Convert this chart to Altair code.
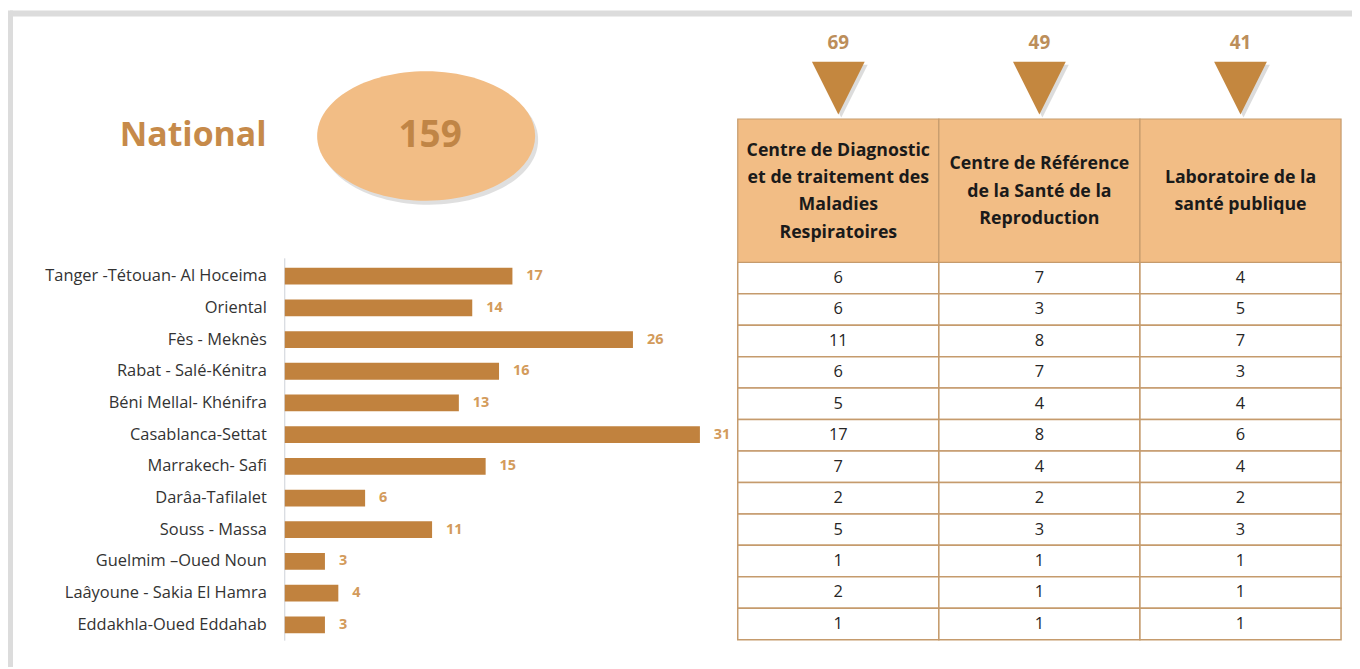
import altair as alt
import pandas as pd

# ---------------- data ----------------
regions = [
    "Tanger -Tétouan- Al Hoceima", "Oriental", "Fès - Meknès",
    "Rabat - Salé-Kénitra", "Béni Mellal- Khénifra", "Casablanca-Settat",
    "Marrakech- Safi", "Darâa-Tafilalet", "Souss - Massa",
    "Guelmim –Oued Noun", "Laâyoune - Sakia El Hamra", "Eddakhla-Oued Eddahab",
]
region_totals = [17, 14, 26, 16, 13, 31, 15, 6, 11, 3, 4, 3]

col_ids = ["cdtmr", "crsr", "lsp"]
col_headers = [
    "Centre de Diagnostic\net de traitement des\nMaladies\nRespiratoires",
    "Centre de Référence\nde la Santé de la\nReproduction",
    "Laboratoire de la\nsanté publique",
]
cdtmr = [6, 6, 11, 6, 5, 17, 7, 2, 5, 1, 2, 1]
crsr = [7, 3, 8, 7, 4, 8, 4, 2, 3, 1, 1, 1]
lsp = [4, 5, 7, 3, 4, 6, 4, 2, 3, 1, 1, 1]
national_label = "National"

# ---------------- tables built from the lists ----------------
df_reg = pd.DataFrame({"region": regions, "total": region_totals})
df_cells = pd.concat(
    [pd.DataFrame({"region": regions, "col": cid, "value": vals})
     for cid, vals in zip(col_ids, [cdtmr, crsr, lsp])],
    ignore_index=True,
)
df_cols = pd.DataFrame({
    "col": col_ids,
    "total": [sum(cdtmr), sum(crsr), sum(lsp)],
})
hdr_rows = []
for cid, h in zip(col_ids, col_headers):
    lines = h.split("\n")
    n = len(lines)
    for i, ln in enumerate(lines):
        hdr_rows.append({"col": cid, "line": ln, "pos": i - (n - 1) / 2})
df_hdr = pd.DataFrame(hdr_rows)
df_nat = pd.DataFrame({"label": [national_label], "total": [sum(region_totals)]})

FONT = "Open Sans"
BAR = "#c1823e"
LBL = "#d39b5b"
GRID = "#c59b6d"
PEACH = "#f2bd85"

# ---------------- scales ----------------
xs_bar = alt.Scale(domain=[0, 31], range=[278, 695], nice=False, zero=True)
ys_bar = alt.Scale(domain=regions, range=[252, 634], paddingInner=0.47, paddingOuter=0.235)
xs_tab = alt.Scale(domain=col_ids, range=[733, 1339], paddingInner=0, paddingOuter=0)
ys_tab = alt.Scale(domain=regions, range=[254, 633], paddingInner=0, paddingOuter=0)
ys_hdr = alt.Scale(domain=[-2, 2], range=[128, 238], nice=False, zero=False)

one = alt.Data(values=[{"a": 1}])

# frame (decoration)
frame_top = alt.Chart(one).mark_rule(color="#dcdcdc", strokeWidth=6).encode(
    x=alt.value(2), x2=alt.value(1352), y=alt.value(4))
frame_left = alt.Chart(one).mark_rule(color="#dcdcdc", strokeWidth=6).encode(
    x=alt.value(2), y=alt.value(1), y2=alt.value(662))

# bar chart
axis_line = alt.Chart(one).mark_rule(color="#cdd1d8", strokeWidth=1).encode(
    x=alt.XDatum(0, scale=xs_bar, axis=None), y=alt.value(250), y2=alt.value(634))
bars = alt.Chart(df_reg).mark_bar(color=BAR).encode(
    x=alt.X("total:Q", scale=xs_bar, axis=None),
    y=alt.Y("region:N", scale=ys_bar, axis=None, sort=regions),
)
bar_labels = alt.Chart(df_reg).mark_text(
    align="left", baseline="middle", dx=14, font=FONT, fontSize=14.5,
    fontWeight="bold", color=LBL,
).encode(
    x=alt.X("total:Q", scale=xs_bar, axis=None),
    y=alt.Y("region:N", scale=ys_bar, axis=None, sort=regions),
    text="total:Q",
)
region_labels = alt.Chart(df_reg).mark_text(
    align="right", baseline="middle", dx=-18, font=FONT, fontSize=16.5,
    color="#333333",
).encode(
    x=alt.XDatum(0, scale=xs_bar, axis=None),
    y=alt.Y("region:N", scale=ys_bar, axis=None, sort=regions),
    text="region:N",
)

# table
cells = alt.Chart(df_cells).mark_rect(fill="white", stroke=GRID, strokeWidth=1.5).encode(
    x=alt.X("col:N", scale=xs_tab, axis=None),
    y=alt.Y("region:N", scale=ys_tab, axis=None),
)
cell_text = alt.Chart(df_cells).mark_text(
    font=FONT, fontSize=16.5, color="#262626", baseline="middle",
).encode(
    x=alt.X("col:N", scale=xs_tab, axis=None),
    y=alt.Y("region:N", scale=ys_tab, axis=None),
    text="value:Q",
)
header = alt.Chart(df_cols).mark_rect(fill=PEACH, stroke=GRID, strokeWidth=1.2).encode(
    x=alt.X("col:N", scale=xs_tab, axis=None),
    y=alt.value(110), y2=alt.value(254),
)
header_text = alt.Chart(df_hdr).mark_text(
    font=FONT, fontSize=17.8, fontWeight="bold", color="#1a1a1a", baseline="middle",
).encode(
    x=alt.X("col:N", scale=xs_tab, axis=None),
    y=alt.Y("pos:Q", scale=ys_hdr, axis=None),
    text="line:N",
)
tri_path = "M-1,-1L1,-1L0,1Z"
tri_shadow = alt.Chart(df_cols).mark_point(
    shape=tri_path, filled=True, size=2809, color="#8a8a8a", opacity=0.3,
    xOffset=3, yOffset=3,
).encode(x=alt.X("col:N", scale=xs_tab, axis=None), y=alt.value(79))
triangles = alt.Chart(df_cols).mark_point(
    shape=tri_path, filled=True, size=2809, color="#c4873f", opacity=1,
).encode(x=alt.X("col:N", scale=xs_tab, axis=None), y=alt.value(79))
tri_text = alt.Chart(df_cols).mark_text(
    font=FONT, fontSize=19, fontWeight="bold", color="#bc8e5a", baseline="middle",
).encode(x=alt.X("col:N", scale=xs_tab, axis=None), y=alt.value(34), text="total:Q")

# national block
k = 0.594
c = 0.552 * k
ell_path = (f"M-1,0C-1,-{c:.3f},-0.552,-{k},0,-{k}C0.552,-{k},1,-{c:.3f},1,0"
            f"C1,{c:.3f},0.552,{k},0,{k}C-0.552,{k},-1,{c:.3f},-1,0Z")
ell_shadow = alt.Chart(df_nat).mark_point(
    shape=ell_path, filled=True, size=47961, color="#7f7f7f", opacity=0.25,
    xOffset=3, yOffset=4,
).encode(x=alt.value(420), y=alt.value(127))
ellipse = alt.Chart(df_nat).mark_point(
    shape=ell_path, filled=True, size=47961, color=PEACH, opacity=1,
).encode(x=alt.value(420), y=alt.value(127))
nat_total = alt.Chart(df_nat).mark_text(
    font=FONT, fontSize=37, fontWeight="bold", color="#c08546", baseline="middle",
).encode(x=alt.value(424), y=alt.value(127), text="total:Q")
nat_label = alt.Chart(df_nat).mark_text(
    font=FONT, fontSize=34, fontWeight="bold", color="#c68a4a", baseline="middle",
).encode(x=alt.value(186), y=alt.value(127), text="label:N")

chart = alt.layer(
    frame_top, frame_left,
    axis_line, bars, bar_labels, region_labels,
    cells, cell_text, header, header_text,
    tri_shadow, triangles, tri_text,
    ell_shadow, ellipse, nat_total, nat_label,
).resolve_scale(x="independent", y="independent").properties(
    width=1350, height=659, padding=0, autosize="none",
).configure_view(stroke=None)

chart.save("out.html", embed_options={"renderer": "svg", "actions": False})
